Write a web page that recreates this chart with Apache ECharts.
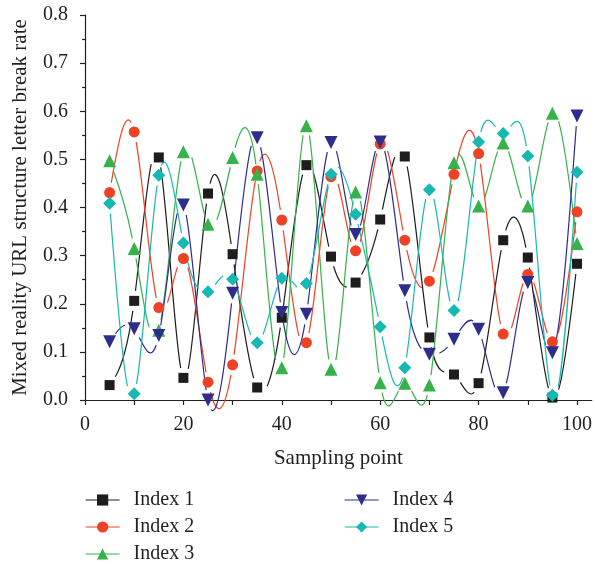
<!DOCTYPE html>
<html>
<head>
<meta charset="utf-8">
<script src="https://cdn.jsdelivr.net/npm/echarts@6/dist/echarts.min.js"></script>
<style>
  html, body { margin: 0; padding: 0; background: #fff; }
  #chart { width: 595px; height: 564px; }
</style>
</head>
<body>
<div id="chart"></div>
<script>
// Sampling points along the x axis
const samplingPoints = [5, 10, 15, 20, 25, 30, 35, 40, 45, 50, 55, 60, 65, 70, 75, 80, 85, 90, 95, 100];

// Break rate per index at each sampling point
const index1 = [0.031, 0.206, 0.504, 0.046, 0.429, 0.303, 0.026, 0.171, 0.488, 0.298, 0.244, 0.375, 0.506, 0.130, 0.053, 0.035, 0.332, 0.296, 0.005, 0.283];
const index2 = [0.431, 0.557, 0.192, 0.294, 0.037, 0.073, 0.476, 0.374, 0.119, 0.464, 0.310, 0.532, 0.332, 0.247, 0.469, 0.512, 0.137, 0.261, 0.121, 0.391];
const index3 = [0.497, 0.315, 0.145, 0.516, 0.365, 0.504, 0.469, 0.067, 0.570, 0.064, 0.432, 0.036, 0.035, 0.031, 0.493, 0.403, 0.534, 0.403, 0.596, 0.325];
const index4 = [0.121, 0.148, 0.134, 0.405, 0.000, 0.222, 0.545, 0.182, 0.178, 0.535, 0.344, 0.536, 0.227, 0.095, 0.126, 0.147, 0.015, 0.244, 0.098, 0.590];
const index5 = [0.409, 0.013, 0.467, 0.326, 0.225, 0.251, 0.119, 0.253, 0.242, 0.469, 0.386, 0.152, 0.067, 0.437, 0.186, 0.536, 0.554, 0.507, 0.010, 0.473];

// Axis tick positions and labels
const xTickValues = [0, 10, 20, 30, 40, 50, 60, 70, 80, 90, 100];
const xLabelValues = [0, 20, 40, 60, 80, 100];

const seriesNames = ['Index 1', 'Index 2', 'Index 3', 'Index 4', 'Index 5'];
const seriesValues = [index1, index2, index3, index4, index5];
const colors = ['#1f1c1d', '#ef4124', '#35b24a', '#2e2d8c', '#16b9b1'];
const symbols = ['rect', 'circle', 'triangle', 'path://M0,0 L10,0 L5,9 Z', 'diamond'];
const symbolSizes = [10, 11, 13, 13, 13];

const FONT = '"Liberation Serif", "DejaVu Serif", serif';
const TEXT = '#231f20';
const LINE_WIDTH = 1.2;
const SYMBOL_GAP = 10; // blank space left between a curve and each marker

// Natural cubic spline through pixel points: returns per-segment Bezier control points
function splineSegments(pts) {
  const n = pts.length;
  const h = [], M = new Array(n).fill(0);
  for (let i = 0; i < n - 1; i++) h.push(pts[i + 1][0] - pts[i][0]);
  const a = [], b = [], c = [], d = [];
  for (let i = 1; i < n - 1; i++) {
    a.push(h[i - 1]);
    b.push(2 * (h[i - 1] + h[i]));
    c.push(h[i]);
    d.push(6 * ((pts[i + 1][1] - pts[i][1]) / h[i] - (pts[i][1] - pts[i - 1][1]) / h[i - 1]));
  }
  const m = b.length;
  for (let i = 1; i < m; i++) {
    const w = a[i] / b[i - 1];
    b[i] -= w * c[i - 1];
    d[i] -= w * d[i - 1];
  }
  const sol = new Array(m);
  for (let i = m - 1; i >= 0; i--) {
    sol[i] = (d[i] - (i < m - 1 ? c[i] * sol[i + 1] : 0)) / b[i];
  }
  for (let i = 0; i < m; i++) M[i + 1] = sol[i];
  const segs = [];
  for (let i = 0; i < n - 1; i++) {
    const hi = h[i];
    const dy = (pts[i + 1][1] - pts[i][1]) / hi;
    const s0 = dy - hi * (2 * M[i] + M[i + 1]) / 6;
    const s1 = dy + hi * (M[i] + 2 * M[i + 1]) / 6;
    segs.push([
      pts[i],
      [pts[i][0] + hi / 3, pts[i][1] + s0 * hi / 3],
      [pts[i + 1][0] - hi / 3, pts[i + 1][1] - s1 * hi / 3],
      pts[i + 1]
    ]);
  }
  return segs;
}

function lerp(p, q, t) { return [p[0] + (q[0] - p[0]) * t, p[1] + (q[1] - p[1]) * t]; }

function bezierAt(bz, t) {
  const a = lerp(bz[0], bz[1], t), b = lerp(bz[1], bz[2], t), c = lerp(bz[2], bz[3], t);
  const d = lerp(a, b, t), e = lerp(b, c, t);
  return lerp(d, e, t);
}

function splitBezier(bz, t) {
  const a = lerp(bz[0], bz[1], t), b = lerp(bz[1], bz[2], t), c = lerp(bz[2], bz[3], t);
  const d = lerp(a, b, t), e = lerp(b, c, t);
  const f = lerp(d, e, t);
  return [[bz[0], a, d, f], [f, e, c, bz[3]]];
}

// Part of a Bezier segment that stays clear of the markers at both ends
function trimmedBezier(bz, gap) {
  const dist = (p, q) => Math.hypot(p[0] - q[0], p[1] - q[1]);
  let t0 = null, t1 = null;
  for (let t = 0; t <= 1; t += 0.002) {
    if (dist(bezierAt(bz, t), bz[0]) >= gap) { t0 = t; break; }
  }
  for (let t = 1; t >= 0; t -= 0.002) {
    if (dist(bezierAt(bz, t), bz[3]) >= gap) { t1 = t; break; }
  }
  if (t0 === null || t1 === null || t0 >= t1) return null;
  const left = splitBezier(bz, t1)[0];
  return splitBezier(left, t0 / t1)[1];
}

// Curves: drawn segment by segment from the data through the axes
const curveSeries = seriesNames.map((name, i) => ({
  type: 'custom',
  name: 'curve-' + (i + 1),
  data: samplingPoints.map((x, k) => [x, seriesValues[i][k]]),
  encode: { x: 0, y: 1 },
  z: 2,
  silent: true,
  renderItem(params, api) {
    const k = params.dataIndex;
    if (k >= samplingPoints.length - 1) return null;
    const pts = samplingPoints.map((x, j) => api.coord([x, seriesValues[i][j]]));
    const bz = trimmedBezier(splineSegments(pts)[k], SYMBOL_GAP);
    if (!bz) return null;
    return {
      type: 'bezierCurve',
      shape: {
        x1: bz[0][0], y1: bz[0][1],
        cpx1: bz[1][0], cpy1: bz[1][1],
        cpx2: bz[2][0], cpy2: bz[2][1],
        x2: bz[3][0], y2: bz[3][1]
      },
      style: { stroke: colors[i], fill: null, lineWidth: LINE_WIDTH }
    };
  }
}));

// Markers (and legend entries) for each index
const markerSeries = seriesNames.map((name, i) => ({
  name,
  type: 'line',
  data: samplingPoints.map((x, k) => [x, seriesValues[i][k]]),
  clip: false,
  symbol: symbols[i],
  symbolSize: symbolSizes[i],
  showAllSymbol: true,
  lineStyle: { color: colors[i], width: LINE_WIDTH, opacity: 0 },
  itemStyle: { color: colors[i] },
  emphasis: { disabled: true },
  z: 3 + i
}));

const legendCommon = {
  orient: 'vertical',
  padding: 0,
  height: 90,
  itemWidth: 34,
  itemHeight: 14,
  itemGap: 7,
  lineStyle: { opacity: 1, width: LINE_WIDTH },
  textStyle: { fontFamily: FONT, fontSize: 20, color: TEXT, padding: [0, 0, 0, 9] }
};

const chart = echarts.init(document.getElementById('chart'), null, { renderer: 'canvas' });
chart.setOption({
  animation: false,
  backgroundColor: '#fff',
  color: colors,
  grid: { left: 85, right: 0, top: 15, bottom: 164, containLabel: false },
  legend: [
    Object.assign({ left: 85, top: 490, data: ['Index 1', 'Index 2', 'Index 3'] }, legendCommon),
    Object.assign({ left: 344, top: 490, data: ['Index 4', 'Index 5'] }, legendCommon)
  ],
  xAxis: {
    type: 'value',
    min: 0,
    max: 103,
    interval: 10,
    name: 'Sampling point',
    nameLocation: 'middle',
    nameGap: 48,
    nameTextStyle: { fontFamily: FONT, fontSize: 21, color: TEXT },
    axisLine: { show: true, onZero: false, lineStyle: { color: '#231f20', width: 1.2 } },
    axisTick: { show: true, length: 5, customValues: xTickValues, lineStyle: { color: '#231f20', width: 1.2 } },
    axisLabel: { customValues: xLabelValues, margin: 15, fontFamily: FONT, fontSize: 20, color: TEXT },
    splitLine: { show: false }
  },
  yAxis: {
    type: 'value',
    min: 0,
    max: 0.8,
    interval: 0.1,
    name: 'Mixed reality URL structure letter break rate',
    nameLocation: 'middle',
    nameGap: 54,
    nameTextStyle: { fontFamily: FONT, fontSize: 21, color: TEXT },
    axisLine: { show: true, lineStyle: { color: '#231f20', width: 1.2 } },
    axisTick: { show: true, length: 5, lineStyle: { color: '#231f20', width: 1.2 } },
    minorTick: { show: true, splitNumber: 2, length: 3, lineStyle: { color: '#231f20', width: 1.2 } },
    axisLabel: { margin: 17, fontFamily: FONT, fontSize: 20, color: TEXT, formatter: v => v.toFixed(1) },
    splitLine: { show: false }
  },
  series: curveSeries.concat(markerSeries)
});
</script>
</body>
</html>
